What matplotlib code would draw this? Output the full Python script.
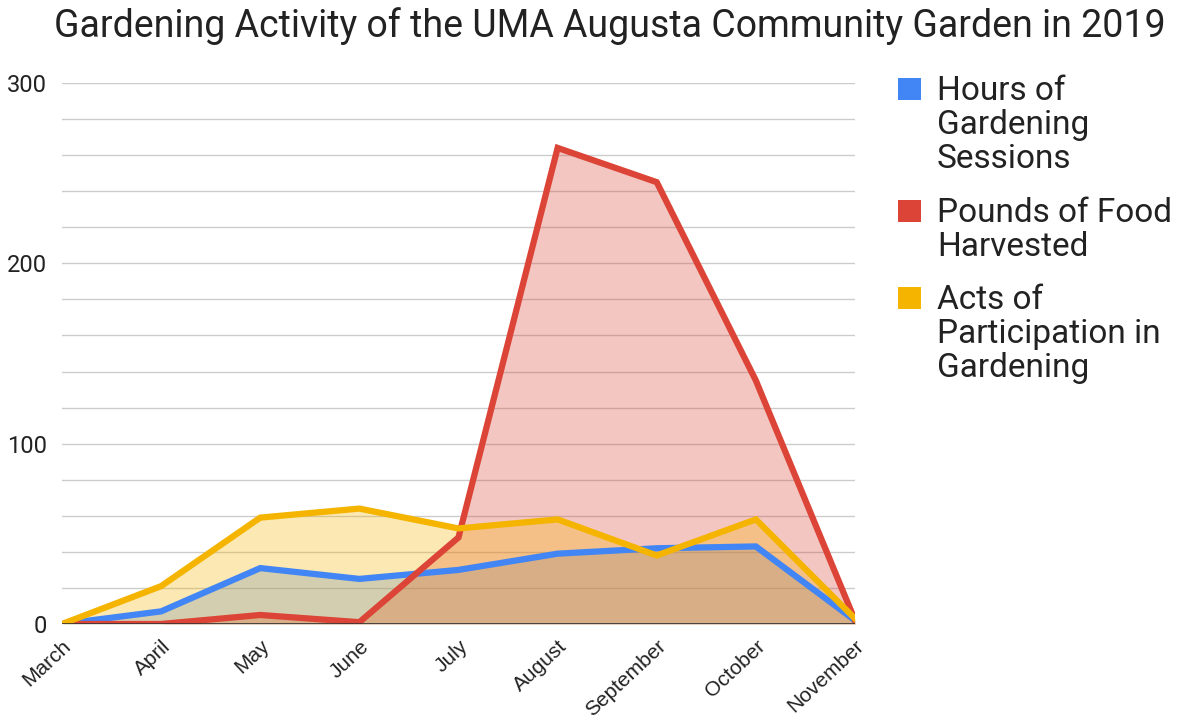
import matplotlib
matplotlib.use("Agg")
import matplotlib.pyplot as plt
from matplotlib.patches import Rectangle
from matplotlib.ticker import MultipleLocator

plt.rcParams["font.family"] = ["Roboto", "DejaVu Sans"]

MONTHS = ["March", "April", "May", "June", "July", "August",
          "September", "October", "November"]
HOURS = [0, 7, 31, 25, 30, 39, 42, 43, 2]
POUNDS = [0, 0, 5, 1, 48, 264, 245, 135, 2]
ACTS = [0, 21, 59, 64, 53, 58, 38, 58, 3]

SERIES = [
    (["Hours of", "Gardening", "Sessions"], HOURS, "#4285F4"),
    (["Pounds of Food", "Harvested"], POUNDS, "#DB4437"),
    (["Acts of", "Participation in", "Gardening"], ACTS, "#F4B400"),
]

W, H = 1185, 727
fig = plt.figure(figsize=(W / 100, H / 100), dpi=100)
ax = fig.add_axes([62 / W, 1 - 624 / H, (855 - 62) / W, (624 - 83) / H])

x = list(range(len(MONTHS)))
for _, vals, color in SERIES:
    ax.fill_between(x, vals, 0, color=color, alpha=0.3, lw=0, zorder=2)
for _, vals, color in SERIES:
    ax.plot(x, vals, color=color, lw=4.5, solid_joinstyle="miter", zorder=3)

ax.set_xlim(0, len(MONTHS) - 1)
ax.set_ylim(0, 300)
ax.yaxis.set_major_locator(MultipleLocator(100))
ax.yaxis.set_minor_locator(MultipleLocator(20))
ax.grid(which="both", axis="y", color="#cccccc", lw=1, zorder=0)
ax.set_axisbelow(True)
ax.axhline(0, color="#333333", lw=1.2, zorder=4)
for s in ax.spines.values():
    s.set_visible(False)
ax.tick_params(axis="both", which="both", length=0)
ax.tick_params(axis="y", labelsize=17, pad=11, labelcolor="#222222")
ax.set_xticks(x)
ax.set_xticklabels(MONTHS, rotation=43, ha="right", rotation_mode="anchor",
                   fontsize=15, color="#222222", family="Liberation Sans")
ax.tick_params(axis="x", pad=9)

fig.text(610 / W, 1 - 26 / H,
         "Gardening Activity of the UMA Augusta Community Garden in 2019",
         ha="center", va="center", fontsize=27, color="#222222")

# legend: coloured square beside the first line of each wrapped label
first_line_y = [89, 211, 298]
line_step = 34
for (lines, _, color), y0 in zip(SERIES, first_line_y):
    fig.add_artist(Rectangle((898 / W, 1 - (y0 + 11) / H), 23 / W, 22 / H,
                             transform=fig.transFigure, color=color, lw=0))
    for i, line in enumerate(lines):
        yb = y0 + 11 + i * line_step
        fig.text(937 / W, 1 - yb / H, line, ha="left", va="baseline",
                 fontsize=24, color="#222222")

fig.savefig("out.png", dpi=100)
